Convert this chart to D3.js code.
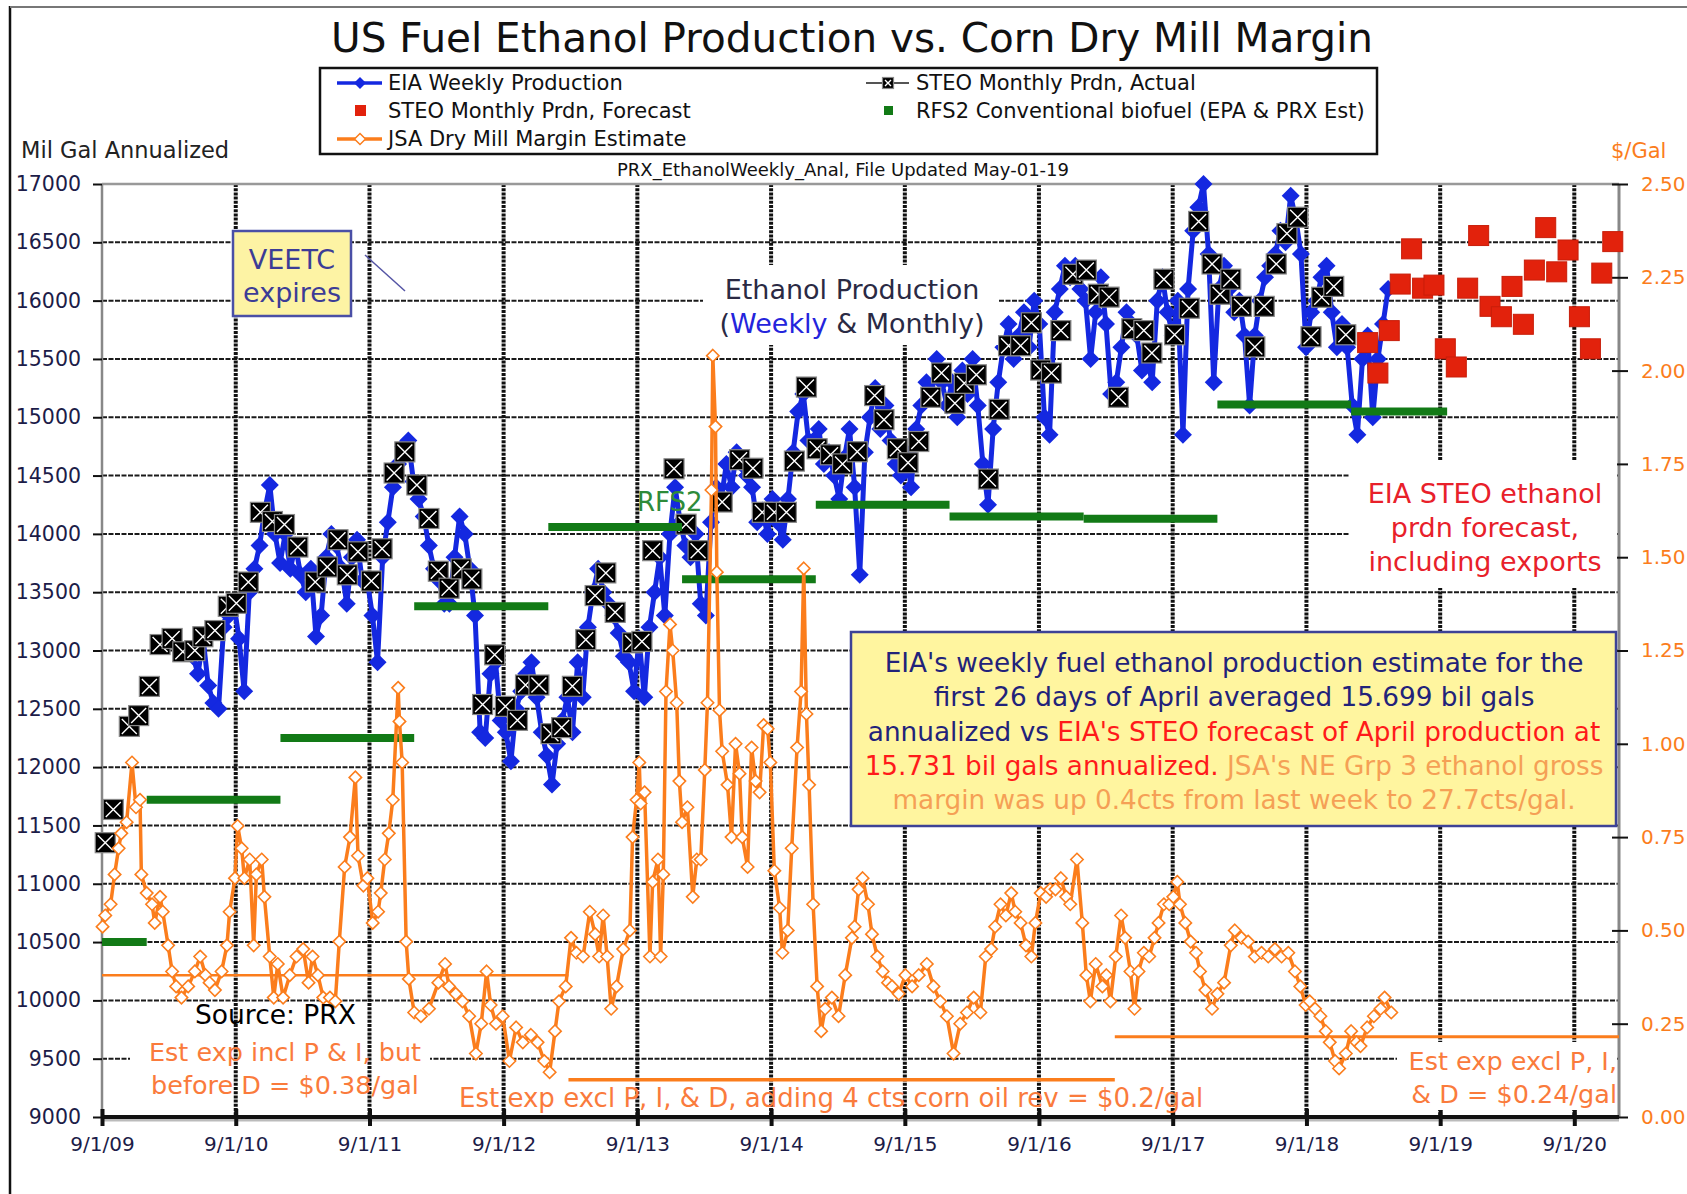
<!DOCTYPE html>
<html><head><meta charset="utf-8">
<script src="https://cdn.jsdelivr.net/npm/d3@7"></script>
<style>body{margin:0;background:#fff} svg{display:block} text{font-family:"DejaVu Sans",Verdana,sans-serif}</style>
</head><body><svg id="c" width="1687" height="1194"></svg>
<script>
// ---------------- DATA ----------------
const leftTicks = [9000,9500,10000,10500,11000,11500,12000,12500,13000,13500,14000,14500,15000,15500,16000,16500,17000];
const rightTicks = [0,0.25,0.5,0.75,1.0,1.25,1.5,1.75,2.0,2.25,2.5];
const xTickYears = [2009,2010,2011,2012,2013,2014,2015,2016,2017,2018,2019,2020];

// EIA weekly production (mil gal annualized), bi-weekly readings from 2010-05-07
const eiaStart = "2010-05-07";
const eiaStepDays = 14;
const eiaWeekly = [
12950,12800,13100,12700,12550,12500,13200,13300,13400,13100,12650,13500,13700,13900,14200,14420,14000,
13750,14000,13700,13900,13650,13500,13700,13120,13300,13800,14000,13900,13700,13400,13800,13950,13600,13600,13300,12900,13800,14100,14400,14600,14750,14800,
14450,14300,14150,13900,13700,13600,13400,13400,13800,14150,14000,13700,13300,12300,12250,12800,12900,12400,12300,12050,12500,12650,12800,12900,12600,12300,
12100,11850,12200,12400,12600,12300,12900,12600,13200,13500,13700,13500,13400,13300,13150,12950,12900,12650,13100,12600,13200,13500,13800,13300,14000,14400,
14100,13900,13800,14000,13400,13300,14100,14400,14300,14600,14400,14700,14600,14500,14400,14100,14200,14000,14300,14100,13950,14300,14700,15050,15200,14800,
14800,14900,14600,14700,14500,14300,14650,14900,14400,13650,14700,15000,15250,14900,15100,14800,14600,14500,14700,14400,14900,15100,15300,15200,15500,15300,
15100,15300,15000,15400,15200,15500,15100,14600,14250,14900,15300,15600,15800,15500,15700,15900,15600,16000,15800,15000,14850,15900,16100,16300,16200,16300,
16100,16000,15500,15900,16200,15800,15200,15300,15600,15900,15800,15700,15400,15500,15300,16000,16200,15900,15700,16000,14850,16100,16600,16800,17000,16400,
15300,16100,16300,16100,15900,16000,15700,15100,15700,16000,16200,16300,16400,16600,16500,16900,16700,16400,15600,15900,16000,16200,16300,15900,15600,15800,
15600,15100,14850,15500,15700,15000,15500,15800,16100];

// STEO monthly production, actual: [decimal year, mil gal]
const steoActual = [
[2009.69,11352],[2009.75,11637],[2009.87,12349],[2009.94,12442],[2010.02,12692],[2010.10,13051],[2010.19,13103],[2010.27,12989],[2010.36,12999],[2010.42,13118],[2010.51,13171],[2010.61,13379],[2010.67,13405],[2010.76,13587],[2010.85,14185],[2010.94,14106],
[2011.03,14080],[2011.13,13887],[2011.26,13587],[2011.35,13716],[2011.43,13950],[2011.50,13649],[2011.58,13846],[2011.68,13596],[2011.76,13872],[2011.85,14522],[2011.93,14703],
[2012.02,14419],[2012.11,14132],[2012.18,13680],[2012.26,13534],[2012.35,13700],[2012.43,13613],[2012.51,12537],[2012.60,12963],[2012.68,12521],[2012.77,12401],[2012.83,12704],[2012.93,12704],
[2013.02,12287],[2013.10,12339],[2013.18,12693],[2013.28,13093],[2013.35,13471],[2013.43,13665],[2013.50,13327],[2013.63,13066],[2013.70,13078],[2013.78,13856],[2013.94,14558],
[2014.03,14083],[2014.12,13856],[2014.30,14273],[2014.43,14636],[2014.53,14563],[2014.60,14185],[2014.69,14185],[2014.78,14185],[2014.84,14624],[2014.93,15259],
[2015.01,14730],[2015.11,14678],[2015.20,14600],[2015.31,14704],[2015.44,15186],[2015.51,14979],[2015.61,14730],[2015.69,14610],[2015.77,14792],[2015.86,15171],[2015.94,15379],
[2016.04,15120],[2016.11,15291],[2016.20,15364],[2016.29,14470],[2016.37,15068],[2016.44,15613],[2016.53,15613],[2016.61,15810],[2016.68,15405],[2016.76,15379],[2016.83,15743],[2016.92,16226],
[2017.02,16262],[2017.11,16055],[2017.19,16030],[2017.26,15171],[2017.36,15759],[2017.45,15743],[2017.51,15551],[2017.60,16184],[2017.68,15707],[2017.79,15935],[2017.86,16679],[2017.96,16314],
[2018.02,16055],[2018.10,16184],[2018.18,15951],[2018.28,15603],[2018.35,15951],[2018.44,16314],[2018.52,16575],[2018.60,16715],[2018.70,15690],[2018.78,16029],[2018.87,16122],[2018.96,15707]];

// STEO monthly production, forecast
const steoFcstMonths = ["2019-02","2019-03","2019-04","2019-05","2019-06","2019-07","2019-08","2019-09","2019-10","2019-11","2019-12",
"2020-01","2020-02","2020-03","2020-04","2020-05","2020-06","2020-07","2020-08","2020-09","2020-10","2020-11","2020-12"];
const steoFcstValues = [15640,15379,15743,16142,16444,16107,16133,15587,15431,16107,16558,15951,15862,16122,15797,16262,16626,16247,16434,15862,15587,16236,16506];

// RFS2 conventional biofuel: [start, end, mil gal]
const rfs2 = [["2009-09-01","2010-01-01",10500],["2010-01-01","2011-01-01",11720],["2011-01-01","2012-01-01",12250],["2012-01-01","2013-01-01",13380],
["2013-01-01","2014-01-01",14060],["2014-01-01","2015-01-01",13610],["2015-01-01","2016-01-01",14250],["2016-01-01","2017-01-01",14150],
["2017-01-01","2018-01-01",14130],["2018-01-01","2019-01-01",15110],["2019-01-01","2019-09-20",15050]];

// JSA dry mill margin ($/gal): [decimal year, $/gal]
const jsaMargin = [
[2009.67,0.51],[2009.69,0.54],[2009.73,0.57],[2009.76,0.65],[2009.79,0.72],[2009.81,0.76],[2009.85,0.79],[2009.89,0.95],[2009.92,0.83],[2009.95,0.85],[2009.96,0.65],
[2010.00,0.60],[2010.04,0.57],[2010.06,0.52],[2010.10,0.59],[2010.12,0.55],[2010.16,0.46],[2010.19,0.39],[2010.22,0.35],[2010.26,0.32],[2010.31,0.35],[2010.36,0.39],[2010.40,0.43],[2010.44,0.38],[2010.47,0.36],[2010.51,0.34],[2010.56,0.39],[2010.60,0.46],[2010.62,0.55],[2010.66,0.64],[2010.68,0.78],[2010.71,0.72],[2010.73,0.64],[2010.77,0.69],[2010.80,0.46],[2010.82,0.65],[2010.86,0.69],[2010.88,0.59],[2010.92,0.43],[2010.95,0.32],[2010.98,0.41],
[2011.02,0.32],[2011.07,0.38],[2011.12,0.43],[2011.17,0.45],[2011.21,0.36],[2011.24,0.43],[2011.28,0.38],[2011.32,0.32],[2011.37,0.32],[2011.41,0.31],[2011.44,0.47],[2011.48,0.67],[2011.52,0.75],[2011.56,0.91],[2011.58,0.70],[2011.62,0.62],[2011.65,0.64],[2011.69,0.52],[2011.73,0.55],[2011.75,0.60],[2011.78,0.69],[2011.81,0.76],[2011.84,0.85],[2011.88,1.15],[2011.89,1.06],[2011.91,0.95],[2011.94,0.47],[2011.96,0.37],
[2012.00,0.28],[2012.05,0.27],[2012.11,0.29],[2012.18,0.36],[2012.23,0.41],[2012.26,0.35],[2012.31,0.33],[2012.36,0.31],[2012.41,0.27],[2012.46,0.17],[2012.50,0.25],[2012.54,0.39],[2012.57,0.30],[2012.61,0.25],[2012.66,0.27],[2012.71,0.15],[2012.76,0.24],[2012.81,0.20],[2012.87,0.22],[2012.92,0.20],[2012.97,0.15],
[2013.01,0.12],[2013.05,0.23],[2013.08,0.31],[2013.13,0.35],[2013.17,0.48],[2013.21,0.44],[2013.26,0.43],[2013.31,0.55],[2013.35,0.49],[2013.38,0.43],[2013.41,0.54],[2013.44,0.43],[2013.47,0.29],[2013.51,0.35],[2013.56,0.45],[2013.61,0.50],[2013.63,0.75],[2013.66,0.85],[2013.68,0.95],[2013.69,0.84],[2013.72,0.87],[2013.76,0.43],[2013.78,0.63],[2013.82,0.69],[2013.84,0.43],[2013.86,0.65],[2013.88,1.14],[2013.91,1.32],[2013.93,1.25],[2013.96,1.11],[2013.98,0.90],
[2014.00,0.79],[2014.04,0.83],[2014.08,0.59],[2014.11,0.69],[2014.14,0.69],[2014.17,0.93],[2014.19,1.11],[2014.22,1.68],[2014.23,2.04],[2014.25,1.85],[2014.26,1.46],[2014.28,1.09],[2014.30,0.98],[2014.34,0.89],[2014.37,0.75],[2014.40,1.00],[2014.43,0.92],[2014.45,0.75],[2014.49,0.67],[2014.52,0.99],[2014.55,0.90],[2014.58,0.87],[2014.61,1.05],[2014.64,1.04],[2014.66,0.95],[2014.69,0.66],[2014.73,0.56],[2014.75,0.44],[2014.79,0.50],[2014.82,0.72],[2014.86,0.99],[2014.89,1.14],[2014.91,1.47],[2014.93,1.08],[2014.95,0.89],[2014.98,0.57],
[2015.01,0.35],[2015.04,0.23],[2015.07,0.29],[2015.12,0.32],[2015.17,0.27],[2015.22,0.38],[2015.27,0.48],[2015.29,0.51],[2015.32,0.61],[2015.35,0.64],[2015.39,0.57],[2015.42,0.49],[2015.46,0.43],[2015.50,0.39],[2015.54,0.36],[2015.57,0.35],[2015.62,0.33],[2015.67,0.38],[2015.72,0.35],[2015.77,0.38],[2015.83,0.41],[2015.88,0.35],[2015.93,0.31],[2015.98,0.27],
[2016.03,0.17],[2016.08,0.25],[2016.13,0.28],[2016.18,0.32],[2016.23,0.28],[2016.27,0.43],[2016.31,0.45],[2016.34,0.51],[2016.38,0.57],[2016.42,0.54],[2016.46,0.60],[2016.49,0.55],[2016.53,0.52],[2016.57,0.46],[2016.61,0.43],[2016.64,0.52],[2016.68,0.60],[2016.72,0.59],[2016.75,0.61],[2016.79,0.61],[2016.83,0.64],[2016.87,0.59],[2016.90,0.57],[2016.95,0.69],[2016.99,0.52],
[2017.02,0.38],[2017.05,0.31],[2017.09,0.41],[2017.14,0.35],[2017.17,0.38],[2017.20,0.31],[2017.24,0.43],[2017.28,0.54],[2017.31,0.48],[2017.35,0.39],[2017.38,0.29],[2017.41,0.39],[2017.45,0.44],[2017.49,0.43],[2017.53,0.48],[2017.56,0.52],[2017.60,0.57],[2017.64,0.57],[2017.67,0.59],[2017.70,0.63],[2017.72,0.57],[2017.76,0.52],[2017.80,0.47],[2017.84,0.44],[2017.87,0.39],[2017.91,0.34],[2017.96,0.29],
[2018.00,0.33],[2018.05,0.36],[2018.10,0.46],[2018.13,0.50],[2018.18,0.48],[2018.23,0.47],[2018.28,0.43],[2018.33,0.44],[2018.38,0.43],[2018.43,0.45],[2018.48,0.43],[2018.53,0.44],[2018.58,0.39],[2018.62,0.35],[2018.66,0.30],[2018.69,0.31],[2018.73,0.29],[2018.77,0.27],[2018.81,0.23],[2018.84,0.20],[2018.88,0.15],[2018.91,0.13],[2018.96,0.17],
[2019.00,0.23],[2019.04,0.20],[2019.07,0.19],[2019.12,0.24],[2019.17,0.27],[2019.22,0.29],[2019.25,0.32],[2019.30,0.28]];

// Estimated expense lines ($/gal): [start, end, value, weight]
const costLines = [["2009-09-01","2013-02-25",0.38,2.5],["2013-02-25","2017-03-27",0.10,3.5],["2017-03-27","2021-01-01",0.215,3]];

// ---------------- CHART ----------------
const svg = d3.select("#c");
const L=102,R=1619,T=184,B=1117;
const x = d3.scaleTime().domain([new Date(2009,8,1), new Date(2021,0,1)]).range([L,R]);
const yL = d3.scaleLinear().domain([9000,17000]).range([B,T]);
const yR = d3.scaleLinear().domain([0,2.5]).range([B,T]);
function dy(t){const y=Math.floor(t);const a=new Date(y,0,1),b=new Date(y+1,0,1);return new Date(+a+(t-y)*(b-a));}
const pd = s => d3.timeParse("%Y-%m-%d")(s);

const ORANGE="#fb7d1c", BLUE="#1428e0", GREEN="#127a16", RED="#e2220c", NAVY="#1c1c48";

// page frame
svg.append("line").attr("x1",10).attr("x2",10).attr("y1",6).attr("y2",1194).attr("stroke","#111").attr("stroke-width",2.5);
svg.append("line").attr("x1",10).attr("x2",1687).attr("y1",7).attr("y2",7).attr("stroke","#777").attr("stroke-width",2);

// title
svg.append("text").attr("x",852).attr("y",52).attr("text-anchor","middle").attr("font-size",40.5).attr("fill","#111")
  .text("US Fuel Ethanol Production vs. Corn Dry Mill Margin");

// legend
const lg = svg.append("g");
lg.append("rect").attr("x",320).attr("y",68).attr("width",1057).attr("height",86).attr("fill","#fff").attr("stroke","#111").attr("stroke-width",2.5);
const lgFont=21;
function diamond(g,cx,cy,r,fill,stroke,sw){g.append("path").attr("d",`M${cx},${cy-r}L${cx+r},${cy}L${cx},${cy+r}L${cx-r},${cy}Z`).attr("fill",fill).attr("stroke",stroke).attr("stroke-width",sw||0);}
function xsq(g,cx,cy,s){g.append("rect").attr("x",cx-s/2).attr("y",cy-s/2).attr("width",s).attr("height",s).attr("fill","#000").attr("stroke","#888").attr("stroke-width",1.2);
  const k=s/2-2.5; g.append("path").attr("d",`M${cx-k},${cy-k}L${cx+k},${cy+k}M${cx+k},${cy-k}L${cx-k},${cy+k}`).attr("stroke","#fff").attr("stroke-width",1.4);}
lg.append("line").attr("x1",337).attr("x2",382).attr("y1",83).attr("y2",83).attr("stroke",BLUE).attr("stroke-width",3.5);
diamond(lg,360,83,6,BLUE);
lg.append("text").attr("x",388).attr("y",90).attr("font-size",lgFont).attr("fill","#111").text("EIA Weekly Production");
lg.append("line").attr("x1",866).attr("x2",909).attr("y1",83).attr("y2",83).attr("stroke","#555").attr("stroke-width",2);
xsq(lg,888,83,11);
lg.append("text").attr("x",916).attr("y",90).attr("font-size",lgFont).attr("fill","#111").text("STEO Monthly Prdn, Actual");
lg.append("rect").attr("x",355).attr("y",105).attr("width",11).attr("height",11).attr("fill",RED);
lg.append("text").attr("x",388).attr("y",118).attr("font-size",lgFont).attr("fill","#111").text("STEO Monthly Prdn, Forecast");
lg.append("rect").attr("x",884).attr("y",106).attr("width",9).attr("height",9).attr("fill",GREEN);
lg.append("text").attr("x",916).attr("y",118).attr("font-size",lgFont).attr("fill","#111").text("RFS2 Conventional biofuel (EPA & PRX Est)");
lg.append("line").attr("x1",337).attr("x2",382).attr("y1",139).attr("y2",139).attr("stroke",ORANGE).attr("stroke-width",3.5);
diamond(lg,360,139,5.5,"#fff",ORANGE,1.5);
lg.append("text").attr("x",388).attr("y",146).attr("font-size",lgFont).attr("fill","#111").text("JSA Dry Mill Margin Estimate");

// subtitle
svg.append("text").attr("x",843).attr("y",176).attr("text-anchor","middle").attr("font-size",18).attr("fill","#111")
  .text("PRX_EthanolWeekly_Anal, File Updated May-01-19");
// axis titles
svg.append("text").attr("x",21).attr("y",158).attr("font-size",22.5).attr("fill","#222").text("Mil Gal Annualized");
svg.append("text").attr("x",1611).attr("y",158).attr("font-size",21).attr("fill",ORANGE).text("$/Gal");

// horizontal gridlines
svg.append("g").selectAll("line").data(leftTicks.filter(v=>v>9000&&v<17000)).join("line")
  .attr("x1",L).attr("x2",R).attr("y1",d=>yL(d)).attr("y2",d=>yL(d))
  .attr("stroke","#1a1a1a").attr("stroke-width",2).attr("stroke-dasharray","5,1.5");
svg.append("rect").attr("x",130).attr("y",1038).attr("width",300).attr("height",68).attr("fill","#fff");

// vertical gridlines
const yearDates = xTickYears.map(y=>new Date(y,8,1));
svg.append("g").selectAll("line").data(yearDates.slice(1)).join("line")
  .attr("x1",d=>x(d)).attr("x2",d=>x(d)).attr("y1",T).attr("y2",B)
  .attr("stroke","#111").attr("stroke-width",4).attr("stroke-dasharray","3,1.2");

// frame
svg.append("line").attr("x1",L).attr("x2",R).attr("y1",T).attr("y2",T).attr("stroke","#999").attr("stroke-width",2.5);
svg.append("line").attr("x1",L).attr("x2",L).attr("y1",T).attr("y2",B).attr("stroke","#888").attr("stroke-width",2.5);
svg.append("line").attr("x1",R).attr("x2",R).attr("y1",T).attr("y2",B).attr("stroke","#888").attr("stroke-width",3);

// axes
const axL = svg.append("g").attr("transform",`translate(${L},0)`)
  .call(d3.axisLeft(yL).tickValues(leftTicks).tickFormat(d=>d).tickSize(9).tickPadding(12));
axL.select(".domain").remove();
axL.selectAll("line").attr("stroke","#111").attr("stroke-width",2);
axL.selectAll("text").attr("font-size",20.5).attr("fill",NAVY).attr("font-family","DejaVu Sans");

const axR = svg.append("g").attr("transform",`translate(${R},0)`)
  .call(d3.axisRight(yR).tickValues(rightTicks).tickFormat(d3.format(".2f")).tickSize(9).tickPadding(13));
axR.select(".domain").remove();
axR.selectAll("line").attr("x1",-7).attr("stroke","#111").attr("stroke-width",2);
axR.selectAll("text").attr("font-size",20).attr("fill",ORANGE).attr("font-family","DejaVu Sans");

// blue weekly
const eiaData = eiaWeekly.map((v,i)=>({d:d3.timeDay.offset(pd(eiaStart),i*eiaStepDays),v}));
const gB = svg.append("g");
gB.append("path").datum(eiaData).attr("fill","none").attr("stroke",BLUE).attr("stroke-width",5).attr("stroke-linejoin","round")
  .attr("d",d3.line().x(d=>x(d.d)).y(d=>yL(d.v)));
gB.selectAll("path.m").data(eiaData).join("path").attr("class","m")
  .attr("d",d=>{const cx=x(d.d),cy=yL(d.v),r=9;return `M${cx},${cy-r}L${cx+r},${cy}L${cx},${cy+r}L${cx-r},${cy}Z`;})
  .attr("fill",BLUE);

// STEO actual
const gA = svg.append("g");
steoActual.forEach(([t,v])=>xsq(gA,x(dy(t)),yL(v),20));

// STEO forecast
const fData = steoFcstMonths.map((m,i)=>({d:pd(m+"-15"),v:steoFcstValues[i]}));
svg.append("g").selectAll("rect").data(fData).join("rect")
  .attr("x",d=>x(d.d)-10).attr("y",d=>yL(d.v)-10).attr("width",20).attr("height",20)
  .attr("fill",RED).attr("stroke","#c81e0a").attr("stroke-width",1);

// RFS2 green
svg.append("g").selectAll("line").data(rfs2).join("line")
  .attr("x1",d=>x(pd(d[0]))).attr("x2",d=>x(pd(d[1]))).attr("y1",d=>yL(d[2])).attr("y2",d=>yL(d[2]))
  .attr("stroke",GREEN).attr("stroke-width",8);

// cost lines
svg.append("g").selectAll("line").data(costLines).join("line")
  .attr("x1",d=>x(pd(d[0]))).attr("x2",d=>x(pd(d[1]))).attr("y1",d=>yR(d[2])).attr("y2",d=>yR(d[2]))
  .attr("stroke",ORANGE).attr("stroke-width",d=>d[3]);

// JSA margin
const mData = jsaMargin.map(([t,v])=>({d:dy(t),v}));
const gO = svg.append("g");
gO.append("path").datum(mData).attr("fill","none").attr("stroke",ORANGE).attr("stroke-width",3.5).attr("stroke-linejoin","round")
  .attr("d",d3.line().x(d=>x(d.d)).y(d=>yR(d.v)));
gO.selectAll("path.m").data(mData).join("path").attr("class","m")
  .attr("d",d=>{const cx=x(d.d),cy=yR(d.v),r=6.2;return `M${cx},${cy-r}L${cx+r},${cy}L${cx},${cy+r}L${cx-r},${cy}Z`;})
  .attr("fill","#fff").attr("stroke",ORANGE).attr("stroke-width",1.6);

// bottom axis
svg.append("line").attr("x1",L).attr("x2",R).attr("y1",B+3).attr("y2",B+3).attr("stroke","#bbb").attr("stroke-width",3);
const axB = svg.append("g").attr("transform",`translate(0,${B})`)
  .call(d3.axisBottom(x).tickValues(yearDates).tickFormat(d3.timeFormat("%-m/%-d/%y")).tickSize(9).tickPadding(11));
axB.select(".domain").attr("stroke","#111").attr("stroke-width",4).attr("d",`M${L},0H${R}`);
axB.selectAll("line").attr("y1",-8).attr("stroke","#111").attr("stroke-width",4);
axB.selectAll("text").attr("font-size",20).attr("fill",NAVY).attr("font-family","DejaVu Sans");

// ---------------- ANNOTATIONS ----------------
svg.append("line").attr("x1",365).attr("y1",255).attr("x2",405).attr("y2",291).attr("stroke","#5555a5").attr("stroke-width",1.5);
svg.append("rect").attr("x",233).attr("y",231).attr("width",118).attr("height",85).attr("fill","#fdf3a4").attr("stroke","#4a4fa6").attr("stroke-width",2.5);
svg.append("text").attr("x",292).attr("y",269).attr("text-anchor","middle").attr("font-size",27).attr("fill","#3c3c96").text("VEETC");
svg.append("text").attr("x",292).attr("y",302).attr("text-anchor","middle").attr("font-size",27).attr("fill","#3c3c96").text("expires");

svg.append("rect").attr("x",703).attr("y",265).attr("width",295).attr("height",80).attr("fill","#fff");
svg.append("text").attr("x",852).attr("y",299).attr("text-anchor","middle").attr("font-size",27).attr("fill","#2a2a44").text("Ethanol Production");
const ep = svg.append("text").attr("x",852).attr("y",333).attr("text-anchor","middle").attr("font-size",27).attr("fill","#2a2a44");
ep.append("tspan").text("(");
ep.append("tspan").attr("fill","#2424dc").text("Weekly");
ep.append("tspan").text(" & Monthly)");

svg.append("text").attr("x",637).attr("y",511).attr("font-size",26).attr("fill","#2e8b3a").text("RFS2");

svg.append("rect").attr("x",1350).attr("y",461).attr("width",267).attr("height",127).attr("fill","#fff");
[["EIA STEO ethanol",503],["prdn forecast,",537],["including exports",571]].forEach(([s,yy])=>
  svg.append("text").attr("x",1485).attr("y",yy).attr("text-anchor","middle").attr("font-size",27).attr("fill","#e8202a").text(s));

svg.append("rect").attr("x",851).attr("y",632).attr("width",765).attr("height",194).attr("fill","#fff59f").attr("stroke","#3d4296").attr("stroke-width",2.5);
const bxF=26.3, cxB=1234, OR2="#f5a055", RD2="#ff1a1a";
function bline(yy,parts){const t=svg.append("text").attr("x",cxB).attr("y",yy).attr("text-anchor","middle").attr("font-size",bxF);
  parts.forEach(([s,c])=>t.append("tspan").attr("fill",c).text(s));}
bline(672,[["EIA's weekly fuel ethanol production estimate for the","#22227a"]]);
bline(706,[["first 26 days of April averaged 15.699 bil gals","#22227a"]]);
bline(741,[["annualized vs ","#22227a"],["EIA's STEO forecast of April production at",RD2]]);
bline(775,[["15.731 bil gals annualized.",RD2],[" JSA's NE Grp 3 ethanol gross",OR2]]);
bline(809,[["margin was up 0.4cts from last week to 27.7cts/gal.",OR2]]);

svg.append("text").attr("x",195).attr("y",1024).attr("font-size",26.5).attr("font-family","Liberation Sans, Arial, sans-serif").attr("fill","#000").text("Source: PRX");

const OR3="#fa7b3c";
svg.append("text").attr("x",285).attr("y",1061).attr("text-anchor","middle").attr("font-size",25.5).attr("fill",OR3).text("Est exp incl P & I, but");
svg.append("text").attr("x",285).attr("y",1094).attr("text-anchor","middle").attr("font-size",25.5).attr("fill",OR3).text("before D = $0.38/gal");
svg.append("text").attr("x",459).attr("y",1107).attr("font-size",26).attr("fill",OR3).text("Est exp excl P, I, & D, adding 4 cts corn oil rev = $0.2/gal");

svg.append("rect").attr("x",1397).attr("y",1042).attr("width",220).attr("height",68).attr("fill","#fff");
svg.append("text").attr("x",1617).attr("y",1070).attr("text-anchor","end").attr("font-size",25.5).attr("fill",OR3).text("Est exp excl P, I,");
svg.append("text").attr("x",1617).attr("y",1103).attr("text-anchor","end").attr("font-size",25.5).attr("fill",OR3).text("& D = $0.24/gal");
</script></body></html>
